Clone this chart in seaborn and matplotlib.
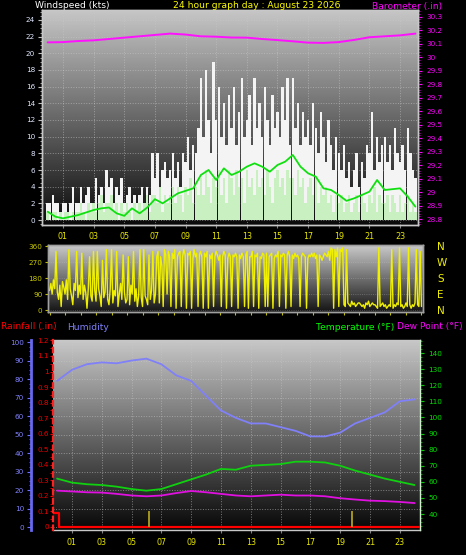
import numpy as np
import matplotlib
matplotlib.use("Agg")
import matplotlib.pyplot as plt
from matplotlib.ticker import MultipleLocator, StrMethodFormatter
import seaborn as sns

# Wind gust and wind speed (kts), one value every 10 minutes, 00:00 .. 24:00
gust_kts = [
    2, 2, 3, 2, 2, 1,
    2, 2, 1, 2, 4, 2,
    2, 4, 2, 3, 4, 2,
    2, 5, 3, 4, 2, 6,
    4, 5, 2, 4, 3, 5,
    2, 3, 4, 2, 3, 2,
    3, 4, 2, 4, 3, 8,
    5, 8, 4, 6, 7, 5,
    6, 8, 5, 7, 4, 8,
    7, 10, 6, 9, 8, 11,
    17, 10, 18, 12, 8, 19,
    12, 16, 10, 14, 9, 15,
    11, 16, 9, 13, 17, 10,
    12, 15, 9, 17, 11, 14,
    10, 16, 12, 9, 15, 11,
    13, 10, 16, 12, 17, 9,
    17, 11, 14, 9, 13, 10,
    12, 9, 14, 11, 8, 13,
    10, 7, 12, 9, 6, 10,
    8, 6, 9, 5, 7, 4,
    6, 8, 4, 7, 5, 9,
    8, 13, 6, 10, 7, 9,
    10, 7, 9, 6, 11, 8,
    7, 9, 6, 11, 8, 6,
    5,
]
wind_kts = [
    1, 0, 1, 1, 0, 1,
    0, 1, 1, 0, 1, 1,
    1, 2, 1, 0, 2, 1,
    2, 1, 2, 3, 1, 2,
    2, 3, 1, 2, 0, 2,
    1, 2, 1, 0, 2, 1,
    2, 1, 2, 3, 1, 3,
    3, 2, 4, 1, 3, 2,
    3, 4, 2, 4, 3, 1,
    4, 3, 5, 2, 4, 3,
    5, 3, 6, 4, 2, 5,
    4, 6, 3, 5, 2, 6,
    5, 3, 6, 4, 5, 2,
    6, 4, 5, 3, 6, 4,
    5, 3, 6, 4, 2, 5,
    6, 4, 5, 3, 6, 5,
    5, 3, 6, 4, 5, 2,
    4, 5, 3, 5, 2, 4,
    3, 4, 2, 3, 1, 3,
    2, 3, 1, 2, 3, 1,
    2, 3, 1, 3, 2, 1,
    3, 2, 4, 1, 3, 2,
    2, 3, 1, 3, 2, 1,
    3, 1, 2, 3, 1, 2,
    1,
]
# average wind (kts), every 30 minutes
avg_kts = [
    1.0, 0.4, 0.2, 0.4, 0.6, 0.9, 1.2, 1.4, 1.5, 0.8, 0.5, 1.4,
    0.8, 1.5, 2.5, 2.0, 2.6, 3.2, 3.5, 3.8, 5.4, 6.0, 4.8, 6.2,
    5.4, 5.8, 6.4, 6.8, 6.4, 5.8, 6.6, 7.0, 7.8, 6.4, 5.6, 5.2,
    3.8, 3.6, 3.0, 2.3, 2.6, 3.0, 3.4, 4.8, 3.6, 3.7, 3.8, 2.8,
    1.6,
]
# barometer (in), hourly
baro_in = [
    30.110, 30.112, 30.120, 30.125, 30.135, 30.145, 30.155, 30.165, 30.175,
    30.168, 30.155, 30.152, 30.146, 30.145, 30.135, 30.127, 30.118, 30.108,
    30.106, 30.112, 30.128, 30.148, 30.155, 30.162, 30.175,
]
# wind direction (deg), every 5 minutes
wind_dir = [
    110, 150, 90, 170, 120, 330, 100, 60, 140, 20, 160, 130,
    90, 170, 60, 340, 120, 80, 30, 150, 110, 330, 70, 140,
    90, 320, 60, 140, 100, 10, 120, 300, 80, 50, 330, 110,
    50, 330, 120, 80, 20, 280, 70, 100, 340, 60, 30, 120,
    340, 40, 110, 80, 330, 20, 90, 150, 60, 310, 100, 40,
    60, 300, 30, 140, 90, 330, 50, 120, 20, 80, 340, 70,
    20, 340, 80, 60, 30, 310, 60, 110, 330, 40, 90, 300,
    330, 40, 300, 250, 20, 340, 310, 90, 330, 300, 20, 320,
    290, 340, 10, 300, 320, 330, 20, 300, 340, 310, 10, 320,
    310, 330, 10, 290, 340, 300, 320, 20, 310, 330, 300, 10,
    320, 300, 330, 10, 310, 290, 320, 20, 300, 330, 310, 280,
    310, 20, 300, 330, 310, 10, 290, 320, 300, 20, 310, 300,
    320, 300, 10, 310, 290, 320, 300, 20, 310, 330, 10, 300,
    300, 330, 20, 310, 300, 320, 10, 300, 290, 320, 310, 20,
    320, 20, 300, 310, 320, 10, 290, 310, 300, 330, 20, 310,
    300, 320, 310, 10, 310, 330, 300, 20, 310, 290, 320, 300,
    310, 290, 20, 300, 320, 310, 300, 10, 290, 310, 300, 320,
    300, 320, 290, 310, 20, 310, 300, 280, 300, 320, 310, 300,
    330, 280, 350, 340, 10, 340, 300, 350, 20, 340, 330, 350,
    30, 20, 340, 40, 30, 20, 50, 30, 40, 20, 30, 40,
    40, 30, 20, 30, 10, 40, 30, 50, 20, 30, 40, 30,
    30, 20, 10, 350, 20, 30, 40, 20, 30, 10, 20, 30,
    20, 340, 10, 30, 20, 40, 30, 350, 20, 30, 10, 20,
    40, 20, 350, 30, 10, 30, 20, 40, 340, 30, 20, 330,
    20,
]
# hourly humidity (%), temperature and dew point (F)
humidity = [79, 85, 88, 89, 88.5, 90, 91, 88, 82, 79, 71, 63, 59,
            56, 56, 54, 52, 49, 49, 51, 56, 59, 62, 68, 69]
temp_f = [62, 59.5, 58.5, 58, 57, 55.5, 54.5, 55.5, 58.5, 61.5, 64.5, 68, 67.5,
          70, 70.5, 71, 72.5, 72.5, 72, 70, 67, 64.5, 62, 60, 58]
dew_f = [54.5, 54, 53.5, 53.3, 52.5, 51.5, 51, 51.5, 53, 54.3, 53.5, 52.5, 51.5,
         51, 51.5, 52, 51.5, 51.5, 51, 49.8, 49, 48.3, 48, 47.5, 46.8]
# rainfall (in)
rain_hours = [-0.3, 0.1, 0.1, 24.4]
rain_in = [0.09, 0.09, 0.0, 0.0]
event_hours = [6.15, 19.8]

hour_ticks = [1, 3, 5, 7, 9, 11, 13, 15, 17, 19, 21, 23]
hour_labels = ["01", "03", "05", "07", "09", "11", "13", "15", "17", "19", "21", "23"]

t10 = np.arange(len(gust_kts)) / 6
t5 = np.arange(len(wind_dir)) / 12
t30 = np.arange(len(avg_kts)) / 2
t60 = np.arange(len(baro_in))

sns.set_style("dark")
plt.rcParams["font.family"] = ["DejaVu Sans"]

W, H = 466, 555
fig = plt.figure(figsize=(W / 100, H / 100), dpi=100, facecolor="black")
PT = 0.72  # points per pixel at 100 dpi
TICK_FS = 5.2
XTICK_FS = 5.8


def rect(x0, y0, x1, y1):
    return [x0 / W, 1 - y1 / H, (x1 - x0) / W, (y1 - y0) / H]


def shade(ax, top, bottom):
    g = np.linspace(top, bottom, 256).reshape(-1, 1)
    ax.imshow(g, cmap="gray", vmin=0, vmax=1, aspect="auto",
              extent=(0, 1, 0, 1), transform=ax.transAxes, zorder=0)


def frame(ax, color):
    for s in ax.spines.values():
        s.set_color(color)
        s.set_linewidth(1)


# ---- top: wind speed + barometer ----
ax1 = fig.add_axes(rect(42, 10, 418, 225))
shade(ax1, 0.78, 0.04)
ax1.bar(t10, gust_kts, width=0.16, color="#f4f4f4", linewidth=0, zorder=2)
ax1.bar(t10, wind_kts, width=0.16, color="#c8f0c0", linewidth=0, zorder=3)
sns.lineplot(x=t30, y=avg_kts, ax=ax1, color="#10e010", lw=1.3, zorder=4, legend=False)
ax1.set_xlim(-0.37, 24.17)
ax1.set_ylim(-0.6, 25.2)
ax1.yaxis.set_major_locator(MultipleLocator(2))
ax1.yaxis.set_minor_locator(MultipleLocator(0.5))
ax1.set_xticks(hour_ticks)
ax1.set_xticklabels(hour_labels)
ax1.tick_params(axis="y", which="both", left=True, color="#c0c0c0", labelcolor="#e0e8ff",
                labelsize=TICK_FS, length=3, pad=2)
ax1.tick_params(axis="y", which="minor", length=1.5)
ax1.tick_params(axis="x", bottom=True, color="#808080", labelcolor="#e8e800",
                labelsize=XTICK_FS, length=2, pad=3)
ax1.grid(True, color="#c8c8c8", ls=":", lw=0.7, alpha=0.55)
frame(ax1, "#c8c8c8")
ax1.set_xlabel("")
ax1.set_ylabel("")

ax1b = ax1.twinx()
sns.lineplot(x=t60, y=baro_in, ax=ax1b, color="#ff10ff", lw=1.4, legend=False)
ax1b.set_ylim(28.756, 30.35)
ax1b.yaxis.set_major_locator(MultipleLocator(0.1))
ax1b.yaxis.set_minor_locator(MultipleLocator(0.02))
ax1b.yaxis.set_major_formatter(StrMethodFormatter("{x:g}"))
ax1b.tick_params(axis="y", which="both", right=True, color="#ff00ff", labelcolor="#ff00ff",
                 labelsize=TICK_FS, length=3, pad=3)
ax1b.tick_params(axis="y", which="minor", length=1.5)
frame(ax1b, "#c8c8c8")
ax1b.set_ylabel("")

# ---- middle: wind direction ----
ax2 = fig.add_axes(rect(48, 245, 423, 312))
shade(ax2, 0.80, 0.08)
sns.lineplot(x=t5, y=wind_dir, ax=ax2, color="#f0f000", lw=1.0, legend=False)
ax2.set_xlim(-0.1, 24.1)
ax2.set_ylim(-11, 366)
ax2.yaxis.set_major_locator(MultipleLocator(90))
ax2.xaxis.set_major_locator(MultipleLocator(1))
ax2.set_xticklabels([])
ax2.tick_params(axis="y", left=True, color="#c0c000", labelcolor="#c8c800",
                labelsize=TICK_FS, length=2, pad=2)
ax2.tick_params(axis="x", bottom=True, color="#c0c000", length=2)
ax2.grid(True, axis="y", color="#c8c8c8", ls=":", lw=0.6, alpha=0.4)
frame(ax2, "#a0a0a0")
ax2.set_ylabel("")

ax2r = ax2.twinx()
ax2r.set_ylim(-11, 366)
ax2r.set_yticks([360, 270, 180, 90, 0])
ax2r.set_yticklabels(["N", "W", "S", "E", "N"])
ax2r.tick_params(axis="y", right=True, length=0, labelcolor="#f0f000", labelsize=7.5, pad=10)
frame(ax2r, "#a0a0a0")

# ---- bottom: humidity, rainfall, temperature, dew point ----
ax3 = fig.add_axes(rect(53, 340, 420, 530))
shade(ax3, 0.78, 0.03)
sns.lineplot(x=t60, y=humidity, ax=ax3, color="#8080f8", lw=1.3, legend=False)
ax3.set_xlim(-0.275, 24.36)
ax3.set_ylim(-1.6, 101.1)
ax3.yaxis.set_major_locator(MultipleLocator(10))
ax3.yaxis.set_minor_locator(MultipleLocator(2.5))
ax3.set_xticks(hour_ticks)
ax3.set_xticklabels(hour_labels)
ax3.tick_params(axis="y", which="both", left=True, color="#7070ff", labelcolor="#8080ff",
                labelsize=TICK_FS, length=3, pad=2)
ax3.tick_params(axis="y", which="minor", length=1.5)
ax3.tick_params(axis="x", bottom=True, color="#808080", labelcolor="#e8e800",
                labelsize=XTICK_FS, length=2, pad=4)
ax3.grid(True, color="#c8c8c8", ls=":", lw=0.7, alpha=0.55)
frame(ax3, "#c8c8c8")
ax3.spines["left"].set_position(("outward", 22 * PT))
ax3.spines["left"].set_color("#6868f0")
ax3.spines["left"].set_linewidth(2)
ax3.set_ylabel("")

rain = ax3.twinx()
sns.lineplot(x=rain_hours, y=rain_in, ax=rain, color="#ff0000", lw=1.6,
             estimator=None, sort=False, legend=False)
rain.vlines(event_hours, 0, 0.1, colors="#b0a020", lw=1.3)
rain.set_ylim(-0.0193, 1.2026)
rain.yaxis.tick_left()
rain.yaxis.set_major_locator(MultipleLocator(0.1))
rain.yaxis.set_minor_locator(MultipleLocator(0.05))
rain.yaxis.set_major_formatter(StrMethodFormatter("{x:g}"))
rain.tick_params(axis="y", which="both", color="#ff0000", labelcolor="#ee0000",
                 labelsize=TICK_FS, length=2, pad=1)
for s in ["top", "bottom", "right"]:
    rain.spines[s].set_visible(False)
rain.spines["left"].set_color("#ff2020")
rain.spines["left"].set_linestyle((0, (2, 2)))
rain.spines["left"].set_linewidth(1.6)
rain.set_ylabel("")

temp = ax3.twinx()
sns.lineplot(x=t60, y=temp_f, ax=temp, color="#10d010", lw=1.3, legend=False)
sns.lineplot(x=t60, y=dew_f, ax=temp, color="#e010e0", lw=1.3, legend=False)
temp.set_ylim(30.06, 148.1)
temp.yaxis.set_major_locator(MultipleLocator(10))
temp.yaxis.set_minor_locator(MultipleLocator(2.5))
temp.tick_params(axis="y", which="both", right=True, color="#00d000", labelcolor="#00e000",
                 labelsize=TICK_FS, length=3, pad=3)
temp.tick_params(axis="y", which="minor", length=1.5)
for s in ["top", "bottom", "left"]:
    temp.spines[s].set_visible(False)
temp.spines["right"].set_color("#d0f0d0")
temp.set_ylabel("")

# ---- titles ----
fs = 6.6
fig.text(35 / W, 1 - 6 / H, "Windspeed (kts)", color="white", fontsize=fs, va="center")
fig.text(257 / W, 1 - 6 / H, "24 hour graph day : August 23 2026", color="#ffff00",
         fontsize=fs, va="center", ha="center")
fig.text(372 / W, 1 - 6 / H, "Barometer (.in)", color="#ff00ff", fontsize=fs, va="center")
fig.text(1 / W, 1 - 327 / H, "Rainfall (.in)", color="#ff0000", fontsize=fs, va="center")
fig.text(67 / W, 1 - 327 / H, "Humidity", color="#8080ff", fontsize=fs, va="center")
fig.text(394 / W, 1 - 327 / H, "Temperature (\u00b0F)", color="#00ff00", fontsize=fs,
         va="center", ha="right")
fig.text(463 / W, 1 - 327 / H, "Dew Point (\u00b0F)", color="#ff00ff", fontsize=fs,
         va="center", ha="right")

fig.savefig("out.png", dpi=100, facecolor="black")
